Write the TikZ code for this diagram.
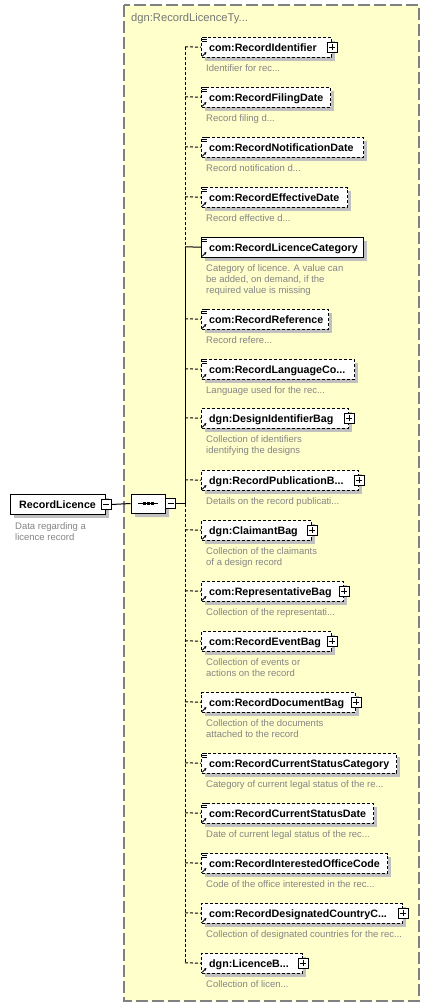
\documentclass[tikz,border=0pt]{standalone}
\usepackage{fontspec}
\setmainfont{Liberation Sans}
\usetikzlibrary{arrows.meta,shapes.misc}
\definecolor{cyel}{HTML}{FFFFCC}
\definecolor{cbord}{HTML}{808080}
\definecolor{cshad}{HTML}{C0C0C0}
\definecolor{cdesc}{HTML}{858585}
\definecolor{ctitle}{HTML}{767676}
\tikzset{
  container/.style={draw=cbord,line width=1.2pt,dash pattern=on 12pt off 4pt,fill=cyel},
  ebox/.style={draw=black,line width=1pt,fill=white,rectangle,inner sep=0pt,minimum height=19.5pt},
  etext/.style={inner sep=0pt,font=\fontsize{10.7}{12}\selectfont\bfseries},
  edesc/.style={inner sep=0pt,align=left,text=cdesc,font=\fontsize{9.5}{11}\selectfont},
  conn/.style={draw=black,line width=1pt},
  dsh/.style={dash pattern=on 3pt off 2pt},
  pbox/.style={draw=black,line width=0.8pt,fill=white,rectangle,inner sep=0pt,minimum size=10pt},
  arrowicon/.style={line width=0.9pt,-{Stealth[length=2.6pt,width=2.8pt]}},
  seqshape/.style={chamfered rectangle,chamfered rectangle xsep=5pt,chamfered rectangle ysep=5pt,inner sep=0pt,minimum width=34pt,minimum height=19pt}
}
\newcommand\xel[6]{%
  \fill[cshad] (205,#2+4) rectangle (#3+4,#2+23.5);
  \node[ebox,#5,minimum width={#3-201},anchor=north west] (#1) at (201,#2) {};
  \node[etext,anchor=base west] (#1t) at ([xshift=8pt,yshift=-3.8pt]#1.west) {#4};
  \node[edesc,anchor=north west] (#1d) at (206,#2+19.5+8.3) {#6};
  \coordinate (#1b) at (185,#2+9.75);
  \draw[conn,#5] (#1b) -- (#1.west);
  \draw[arrowicon] ([xshift=1.2pt,yshift=1.2pt]#1.south west) -- ++(4.2,-4.2);
}
\newcommand\xpl[1]{%
  \node[pbox] (#1p) at (#1.east) {};
  \draw[line width=0.8pt] ([xshift=-3pt]#1p.center) -- ([xshift=3pt]#1p.center)
    ([yshift=-3pt]#1p.center) -- ([yshift=3pt]#1p.center);
}
\newcommand\xli[1]{%
  \draw[line width=0.7pt] ([xshift=1pt,yshift=-0.6pt]#1.north west) -- ++(4.5,0)
    ++(-4.5,1.7) -- ++(4.5,0) ++(-4.5,1.7) -- ++(4.5,0);
}
\begin{document}
\begin{tikzpicture}[x=1pt,y=-1pt]
\useasboundingbox (0,0) rectangle (430,1007);
\fill[white] (0,0) rectangle (430,1007);
% container
\draw[container] (124,5) rectangle (419,1001);
\node[inner sep=0pt,anchor=base west,text=ctitle,font=\fontsize{11.2}{13}\selectfont] (title) at (131,21) {dgn:RecordLicenceTy...};
% elements
\xel{e1}{37}{331}{com:RecordIdentifier}{dsh}{Identifier for rec...}
\xel{e2}{87}{330}{com:RecordFilingDate}{dsh}{Record filing d...}
\xel{e3}{137}{363}{com:RecordNotificationDate}{dsh}{Record notification d...}
\xel{e4}{187}{347}{com:RecordEffectiveDate}{dsh}{Record effective d...}
\xel{e5}{237}{363}{com:RecordLicenceCategory}{solid}{Category of licence. A value can\\be added, on demand, if the\\required value is missing}
\xel{e6}{309}{328}{com:RecordReference}{dsh}{Record refere...}
\xel{e7}{359}{354}{com:RecordLanguageCo...}{dsh}{Language used for the rec...}
\xel{e8}{408}{348}{dgn:DesignIdentifierBag}{dsh}{Collection of identifiers\\identifying the designs}
\xel{e9}{470}{358}{dgn:RecordPublicationB...}{dsh}{Details on the record publicati...}
\xel{e10}{520}{311}{dgn:ClaimantBag}{dsh}{Collection of the claimants\\of a design record}
\xel{e11}{581}{343}{com:RepresentativeBag}{dsh}{Collection of the representati...}
\xel{e12}{631}{331}{com:RecordEventBag}{dsh}{Collection of events or\\actions on the record}
\xel{e13}{692}{355}{com:RecordDocumentBag}{dsh}{Collection of the documents\\attached to the record}
\xel{e14}{753}{396}{com:RecordCurrentStatusCategory}{dsh}{Category of current legal status of the re...}
\xel{e15}{803}{373}{com:RecordCurrentStatusDate}{dsh}{Date of current legal status of the rec...}
\xel{e16}{853}{387}{com:RecordInterestedOfficeCode}{dsh}{Code of the office interested in the rec...}
\xel{e17}{903}{402}{com:RecordDesignatedCountryC...}{dsh}{Collection of designated countries for the rec...}
\xel{e18}{953}{302}{dgn:LicenceB...}{dsh}{Collection of licen...}
\xpl{e1}\xpl{e8}\xpl{e9}\xpl{e10}\xpl{e11}\xpl{e12}\xpl{e13}\xpl{e17}\xpl{e18}
\xli{e1}\xli{e2}\xli{e3}\xli{e4}\xli{e5}\xli{e6}\xli{e7}\xli{e14}\xli{e15}\xli{e16}
% vertical line
\coordinate (j) at (185,503.5);
\draw[conn,dsh] (e1b) -- (e5b);
\draw[conn] (e5b) -- (j);
\draw[conn,dsh] (j) -- (e18b);
% root element
\fill[cshad] (14,498) rectangle (109,518);
\node[ebox,solid,minimum width=95pt,minimum height=20pt,anchor=north west] (root) at (10,494) {};
\node[etext,anchor=base west] (roott) at ([xshift=9pt,yshift=-3.8pt]root.west) {RecordLicence};
\node[edesc,anchor=north west] (rootd) at (15,522.3) {Data regarding a\\licence record};
\node[pbox] (rootm) at (root.east) {};
\draw[line width=0.8pt] ([xshift=-3pt]rootm.center) -- ([xshift=3pt]rootm.center);
% sequence
\node[seqshape,fill=cshad] (seqs) at (152,507.5) {};
\node[seqshape,draw=black,line width=1pt,fill=white] (seq) at (148,503.5) {};
\draw[line width=1pt] (138,503.5) -- (158,503.5);
\fill (142.5,502) rectangle (145.5,505);
\fill (146.5,502) rectangle (149.5,505);
\fill (150.5,502) rectangle (153.5,505);
\node[pbox] (seqm) at (170.5,503.5) {};
\draw[line width=0.8pt] ([xshift=-3pt]seqm.center) -- ([xshift=3pt]seqm.center);
\draw[conn] (rootm.east) -- (seq.west);
\draw[conn] (seqm.east) -- (j);
\end{tikzpicture}
\end{document}
